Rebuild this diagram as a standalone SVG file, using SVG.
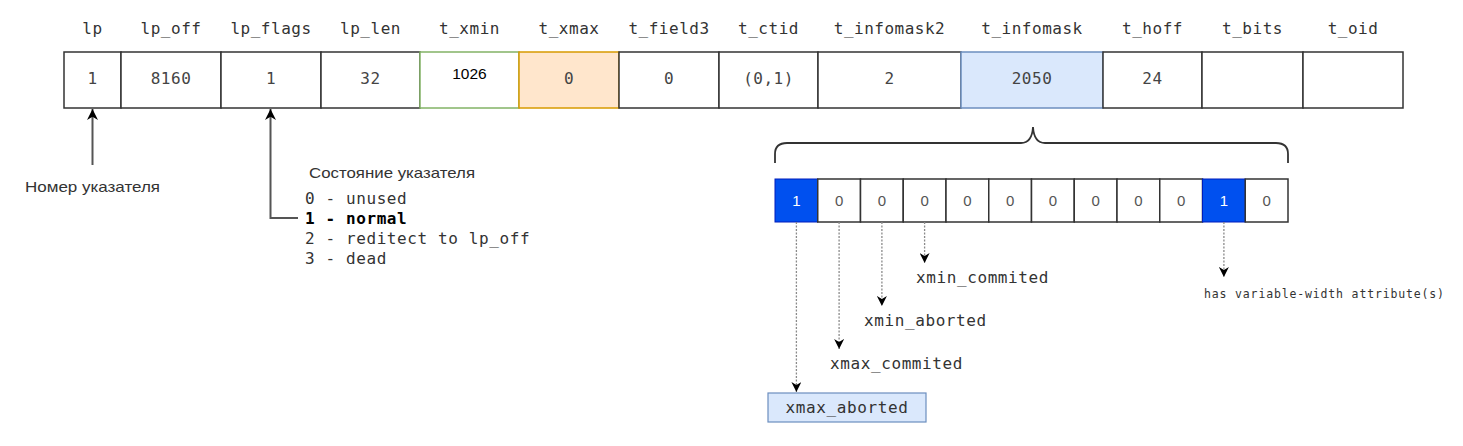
<svg xmlns="http://www.w3.org/2000/svg" width="1463" height="446" viewBox="0 0 1463 446">
<defs>
<style>
.hdr{font-family:"DejaVu Sans Mono","Liberation Mono",monospace;font-size:16px;letter-spacing:0.5px;fill:#333;text-anchor:middle;dominant-baseline:central}
.val{font-family:"DejaVu Sans Mono","Liberation Mono",monospace;font-size:16px;letter-spacing:0.5px;fill:#444;text-anchor:middle;dominant-baseline:central}
.mono{font-family:"DejaVu Sans Mono","Liberation Mono",monospace;font-size:16px;letter-spacing:0.6px;fill:#333;dominant-baseline:central}
.sans{font-family:"Liberation Sans",Arial,sans-serif;font-size:15px;fill:#333;dominant-baseline:central}
.bit{font-family:"Liberation Sans",Arial,sans-serif;font-size:15px;fill:#555;text-anchor:middle;dominant-baseline:central}
.cell{fill:#fff;stroke:#333;stroke-width:1.5}
.bitc{fill:#fff;stroke:#333;stroke-width:1.5}
.bitb{fill:#0050ef;stroke:#001dbc;stroke-width:1}
.dot{fill:none;stroke:#8a8a8a;stroke-width:1.3;stroke-dasharray:2 1.5;marker-end:url(#ah)}
.solid{fill:none;stroke:#555;stroke-width:2;marker-end:url(#ah2)}
</style>
<marker id="ah" viewBox="0 0 10 10" refX="10" refY="5" markerWidth="11" markerHeight="10" markerUnits="userSpaceOnUse" orient="auto"><path d="M0,0 L10,5 L0,10 L3,5 z" fill="#000"/></marker>
<marker id="ah2" viewBox="0 0 10 10" refX="10" refY="5" markerWidth="11" markerHeight="11" markerUnits="userSpaceOnUse" orient="auto"><path d="M0,0 L10,5 L0,10 L3,5 z" fill="#000"/></marker>
</defs>
<rect width="1463" height="446" fill="#fff"/>

<g id="headers">
<text class="hdr" x="92.5" y="28">lp</text>
<text class="hdr" x="171" y="28">lp_off</text>
<text class="hdr" x="271" y="28">lp_flags</text>
<text class="hdr" x="370.5" y="28">lp_len</text>
<text class="hdr" x="469.5" y="28">t_xmin</text>
<text class="hdr" x="569" y="28">t_xmax</text>
<text class="hdr" x="669" y="28">t_field3</text>
<text class="hdr" x="768.5" y="28">t_ctid</text>
<text class="hdr" x="889.5" y="28">t_infomask2</text>
<text class="hdr" x="1032" y="28">t_infomask</text>
<text class="hdr" x="1152.5" y="28">t_hoff</text>
<text class="hdr" x="1252.5" y="28">t_bits</text>
<text class="hdr" x="1353" y="28">t_oid</text>
</g>

<g id="cell-lp"><rect class="cell" x="64" y="52" width="57" height="56"/><text class="val" x="92.5" y="78">1</text></g>
<g id="cell-lp_off"><rect class="cell" x="121" y="52" width="100" height="56"/><text class="val" x="171" y="78">8160</text></g>
<g id="cell-lp_flags"><rect class="cell" x="221" y="52" width="100" height="56"/><text class="val" x="271" y="78">1</text></g>
<g id="cell-lp_len"><rect class="cell" x="321" y="52" width="99" height="56"/><text class="val" x="370.5" y="78">32</text></g>
<g id="cell-t_xmin"><rect x="420" y="52" width="99" height="56" fill="#fff" stroke="#82b366" stroke-width="1.5"/><text x="469.5" y="73" font-family="Liberation Sans, Arial, sans-serif" font-size="15.5" fill="#000" text-anchor="middle" dominant-baseline="central">1026</text></g>
<g id="cell-t_xmax"><rect x="519" y="52" width="100" height="56" fill="#ffe6cc" stroke="#d79b00" stroke-width="1.5"/><text class="val" x="569" y="78">0</text></g>
<g id="cell-t_field3"><rect class="cell" x="619" y="52" width="100" height="56"/><text class="val" x="669" y="78">0</text></g>
<g id="cell-t_ctid"><rect class="cell" x="719" y="52" width="99" height="56"/><text class="val" x="768.5" y="78">(0,1)</text></g>
<g id="cell-t_infomask2"><rect class="cell" x="818" y="52" width="143" height="56"/><text class="val" x="889.5" y="78">2</text></g>
<g id="cell-t_infomask"><rect x="961" y="52" width="142" height="56" fill="#dae8fc" stroke="#6c8ebf" stroke-width="1.5"/><text class="val" x="1032" y="78">2050</text></g>
<g id="cell-t_hoff"><rect class="cell" x="1103" y="52" width="99" height="56"/><text class="val" x="1152.5" y="78">24</text></g>
<g id="cell-t_bits"><rect class="cell" x="1202" y="52" width="101" height="56"/></g>
<g id="cell-t_oid"><rect class="cell" x="1303" y="52" width="100" height="56"/></g>

<g id="brace"><path d="M775,163 L775,154 Q775,143 787,143 L1021,143 Q1032,143 1033,127 Q1034,143 1045,143 L1276,143 Q1288,143 1288,154 L1288,163" fill="none" stroke="#333" stroke-width="1.8"/></g>

<g id="bits">
<rect class="bitb" x="775" y="179" width="42.75" height="43"/><text class="bit" x="796.4" y="200" style="fill:#fff">1</text>
<rect class="bitc" x="817.75" y="179" width="42.75" height="43"/><text class="bit" x="839.1" y="200">0</text>
<rect class="bitc" x="860.5" y="179" width="42.75" height="43"/><text class="bit" x="881.9" y="200">0</text>
<rect class="bitc" x="903.25" y="179" width="42.75" height="43"/><text class="bit" x="924.6" y="200">0</text>
<rect class="bitc" x="946" y="179" width="42.75" height="43"/><text class="bit" x="967.4" y="200">0</text>
<rect class="bitc" x="988.75" y="179" width="42.75" height="43"/><text class="bit" x="1010.1" y="200">0</text>
<rect class="bitc" x="1031.5" y="179" width="42.75" height="43"/><text class="bit" x="1052.9" y="200">0</text>
<rect class="bitc" x="1074.25" y="179" width="42.75" height="43"/><text class="bit" x="1095.6" y="200">0</text>
<rect class="bitc" x="1117" y="179" width="42.75" height="43"/><text class="bit" x="1138.4" y="200">0</text>
<rect class="bitc" x="1159.75" y="179" width="42.75" height="43"/><text class="bit" x="1181.1" y="200">0</text>
<rect class="bitb" x="1202.5" y="179" width="42.75" height="43"/><text class="bit" x="1223.9" y="200" style="fill:#fff">1</text>
<rect class="bitc" x="1245.25" y="179" width="42.75" height="43"/><text class="bit" x="1266.6" y="200">0</text>
</g>

<g id="connectors">
<path class="solid" d="M92.5,165 L92.5,109"/>
<path class="solid" d="M298,218 L270.5,218 L270.5,109"/>
<path class="dot" d="M796.4,222 L796.4,392"/>
<path class="dot" d="M839.1,222 L839.1,349"/>
<path class="dot" d="M881.9,222 L881.9,306"/>
<path class="dot" d="M924.6,222 L924.6,263"/>
<path class="dot" d="M1223.9,222 L1223.9,277"/>
</g>

<g id="label-lp"><text class="sans" x="25" y="186" textLength="135" lengthAdjust="spacingAndGlyphs">Номер указателя</text></g>
<g id="label-lp_flags">
<text class="sans" x="309" y="172" textLength="166" lengthAdjust="spacingAndGlyphs">Состояние указателя</text>
<text class="mono" x="305" y="198">0 - unused</text>
<text class="mono" x="305" y="218" font-weight="bold" style="fill:#000">1 - normal</text>
<text class="mono" x="305" y="238">2 - reditect to lp_off</text>
<text class="mono" x="305" y="258">3 - dead</text>
</g>
<g id="label-xmin_commited"><text class="mono" x="916" y="277">xmin_commited</text></g>
<g id="label-xmin_aborted"><text class="mono" x="864" y="320">xmin_aborted</text></g>
<g id="label-xmax_commited"><text class="mono" x="830" y="363">xmax_commited</text></g>
<g id="node-xmax_aborted"><rect x="768" y="393" width="158" height="29" fill="#dae8fc" stroke="#6c8ebf" stroke-width="1.2"/><text class="mono" x="847" y="407" style="text-anchor:middle">xmax_aborted</text></g>
<g id="label-varwidth"><text x="1204" y="294" font-family="DejaVu Sans Mono, Liberation Mono, monospace" font-size="11.5" fill="#333" dominant-baseline="central" textLength="240" lengthAdjust="spacing">has variable-width attribute(s)</text></g>
</svg>
